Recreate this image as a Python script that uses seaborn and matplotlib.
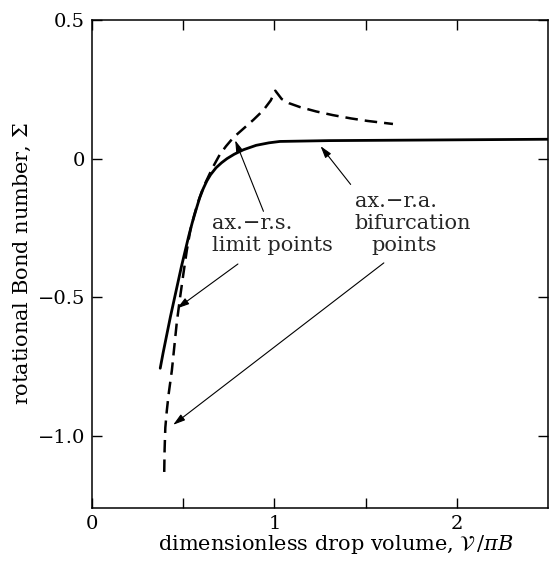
import numpy as np
import pandas as pd
import seaborn as sns
import matplotlib
matplotlib.use("Agg")
import matplotlib.pyplot as plt

# ---- data ----
# ax.-r.a. branch (solid)
solid_x = [0.374, 0.39, 0.41, 0.43, 0.45, 0.47, 0.49, 0.51, 0.53, 0.55, 0.57,
           0.59, 0.61, 0.63, 0.65, 0.68, 0.71, 0.74, 0.78, 0.83, 0.90, 0.97, 1.03,
           1.3, 1.8, 2.52]
solid_y = [-0.756, -0.70, -0.635, -0.57, -0.51, -0.45, -0.39, -0.335, -0.28, -0.23,
           -0.185, -0.142, -0.108, -0.08, -0.058, -0.033, -0.015, 0.0, 0.016, 0.032,
           0.048, 0.057, 0.062, 0.065, 0.067, 0.07]
# ax.-r.s. branch (dashed)
dash_x = [0.396, 0.398, 0.402, 0.41, 0.42, 0.438, 0.465, 0.483, 0.50, 0.52, 0.54,
          0.56, 0.58, 0.60, 0.62, 0.645, 0.67, 0.70, 0.735, 0.775, 0.83, 0.885, 0.94,
          0.98, 1.005, 1.04, 1.08, 1.14, 1.23, 1.32, 1.42, 1.51, 1.65]
dash_y = [-1.13, -1.05, -0.97, -0.91, -0.85, -0.763, -0.59, -0.50, -0.42, -0.33,
          -0.255, -0.205, -0.16, -0.122, -0.09, -0.055, -0.022, 0.014, 0.045, 0.076,
          0.108, 0.14, 0.175, 0.21, 0.245, 0.215, 0.2, 0.186, 0.17, 0.157, 0.145,
          0.136, 0.125]

x_ticks = [0, 0.5, 1, 1.5, 2]
x_tick_labels = ["0", "", "1", "", "2"]
y_ticks = [0.5, 0, -0.5, -1.0]
y_tick_labels = ["0.5", "0", "\u22120.5", "\u22121.0"]

sns.set_theme(style="ticks")
plt.rcParams["font.family"] = ["DejaVu Serif"]
plt.rcParams["mathtext.fontset"] = "dejavuserif"

fig = plt.figure(figsize=(5.5, 5.65), dpi=100)
ax = fig.add_axes([92 / 550, 1 - 508 / 565, (548 - 92) / 550, (508 - 20) / 565])

df_s = pd.DataFrame({"x": solid_x, "y": solid_y})
df_d = pd.DataFrame({"x": dash_x, "y": dash_y})
sns.lineplot(data=df_s, x="x", y="y", sort=False, estimator=None, ax=ax,
             color="black", lw=2.0)
sns.lineplot(data=df_d, x="x", y="y", sort=False, estimator=None, ax=ax,
             color="black", lw=1.8, dashes=False, linestyle=(0, (5, 2.8)))

ax.set_xlim(0, 2.5)
ax.set_ylim(-1.26, 0.5)
ax.set_xticks(x_ticks)
ax.set_xticklabels(x_tick_labels)
ax.set_yticks(y_ticks)
ax.set_yticklabels(y_tick_labels)
ax.tick_params(direction="in", length=7, width=1.0, top=True, right=True,
               labelsize=14, colors="black", pad=5)
for s in ax.spines.values():
    s.set_visible(True)
    s.set_linewidth(1.1)
    s.set_color("black")

ax.set_xlabel("dimensionless drop volume, $\\mathcal{V}\\,/\\pi B$", fontsize=15,
              color="black")
ax.set_ylabel("rotational Bond number, $\\mathit{\\Sigma}$", fontsize=15, color="black")
ax.xaxis.set_label_coords(0.535, -0.052)
ax.yaxis.set_label_coords(-0.13, 0.5)

fs = 15
ax.text(0.659, -0.233, "ax.\u2212r.s.", fontsize=fs, ha="left", va="center")
ax.text(0.659, -0.315, "limit points", fontsize=fs, ha="left", va="center")
ax.text(1.44, -0.154, "ax.\u2212r.a.", fontsize=fs, ha="left", va="center")
ax.text(1.44, -0.233, "bifurcation", fontsize=fs, ha="left", va="center")
ax.text(1.709, -0.315, "points", fontsize=fs, ha="center", va="center")

ap = dict(arrowstyle="-|>,head_length=0.6,head_width=0.18", color="black",
          lw=0.8, shrinkA=0, shrinkB=0)
ax.annotate("", xy=(0.785, 0.066), xytext=(0.94, -0.19), arrowprops=ap)
ax.annotate("", xy=(0.467, -0.54), xytext=(0.80, -0.38), arrowprops=ap)
ax.annotate("", xy=(1.253, 0.045), xytext=(1.418, -0.093), arrowprops=ap)
ax.annotate("", xy=(0.445, -0.96), xytext=(1.60, -0.376), arrowprops=ap)

fig.savefig("out.png", dpi=100, facecolor="white")
